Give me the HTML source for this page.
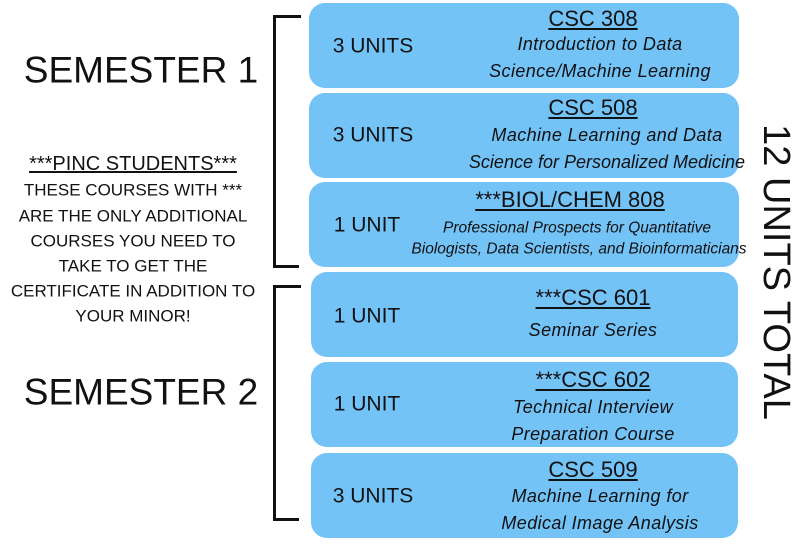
<!DOCTYPE html>
<html><head><meta charset="utf-8"><style>
body{margin:0;width:800px;height:549px;background:#fff;position:relative;overflow:hidden;font-family:"Liberation Sans",sans-serif;color:#111}
.b{position:absolute;background:#74c3f7;border-radius:16px}
.t{position:absolute;transform:translate(-50%,-50%);white-space:nowrap;line-height:1}
.u{font-size:21px}
.h{font-size:22px;text-decoration:underline}
.s{font-size:18px;font-style:italic;letter-spacing:0.4px}
.l{position:absolute;background:#111}
.sm{font-size:17px}
</style></head><body>
<div class="b" style="left:309px;top:3px;width:430px;height:85px"></div>
<div class="b" style="left:309px;top:93px;width:430px;height:85px"></div>
<div class="b" style="left:309px;top:182px;width:430px;height:85px"></div>
<div class="b" style="left:311px;top:272px;width:427px;height:85px"></div>
<div class="b" style="left:311px;top:362px;width:427px;height:85px"></div>
<div class="b" style="left:311px;top:453px;width:427px;height:85px"></div>

<div class="l" style="left:273px;top:15px;width:3px;height:253px"></div>
<div class="l" style="left:273px;top:15px;width:28px;height:3px"></div>
<div class="l" style="left:273px;top:265px;width:26px;height:3px"></div>
<div class="l" style="left:273px;top:285px;width:3px;height:235px"></div>
<div class="l" style="left:273px;top:285px;width:28px;height:3px"></div>
<div class="l" style="left:273px;top:518px;width:26px;height:3px"></div>

<div class="t" style="left:141px;top:70px;font-size:37px">SEMESTER 1</div>
<div class="t" style="left:141px;top:392px;font-size:37px">SEMESTER 2</div>

<div class="t" style="left:133px;top:164px;font-size:20px;text-decoration:underline">***PINC STUDENTS***</div>
<div class="t sm" style="left:133px;top:190px">THESE COURSES WITH ***</div>
<div class="t sm" style="left:133px;top:216px">ARE THE ONLY ADDITIONAL</div>
<div class="t sm" style="left:133px;top:241px">COURSES YOU NEED TO</div>
<div class="t sm" style="left:133px;top:266px">TAKE TO GET THE</div>
<div class="t sm" style="left:133px;top:291px">CERTIFICATE IN ADDITION TO</div>
<div class="t sm" style="left:133px;top:316px">YOUR MINOR!</div>

<div class="t" style="left:776px;top:272px;font-size:38px;transform:translate(-50%,-50%) rotate(90deg)">12 UNITS TOTAL</div>

<div class="t u" style="left:373px;top:46px">3 UNITS</div>
<div class="t h" style="left:593px;top:19px">CSC 308</div>
<div class="t s" style="left:600px;top:44px">Introduction to Data</div>
<div class="t s" style="left:600px;top:71px">Science/Machine Learning</div>

<div class="t u" style="left:373px;top:135px">3 UNITS</div>
<div class="t h" style="left:593px;top:108px">CSC 508</div>
<div class="t s" style="left:607px;top:135px">Machine Learning and Data</div>
<div class="t s" style="left:607px;top:162px;letter-spacing:0">Science for Personalized Medicine</div>

<div class="t u" style="left:367px;top:225px">1 UNIT</div>
<div class="t h" style="left:570px;top:200px">***BIOL/CHEM 808</div>
<div class="t" style="left:577px;top:228px;font-size:15.5px;font-style:italic">Professional Prospects for Quantitative</div>
<div class="t" style="left:579px;top:249px;font-size:15.5px;font-style:italic">Biologists, Data Scientists, and Bioinformaticians</div>

<div class="t u" style="left:367px;top:316px">1 UNIT</div>
<div class="t h" style="left:593px;top:298px">***CSC 601</div>
<div class="t s" style="left:593px;top:330px">Seminar Series</div>

<div class="t u" style="left:367px;top:404px">1 UNIT</div>
<div class="t h" style="left:593px;top:380px">***CSC 602</div>
<div class="t s" style="left:593px;top:407px">Technical Interview</div>
<div class="t s" style="left:593px;top:434px">Preparation Course</div>

<div class="t u" style="left:373px;top:496px">3 UNITS</div>
<div class="t h" style="left:593px;top:470px">CSC 509</div>
<div class="t s" style="left:600px;top:496px">Machine Learning for</div>
<div class="t s" style="left:600px;top:523px">Medical Image Analysis</div>
</body></html>
